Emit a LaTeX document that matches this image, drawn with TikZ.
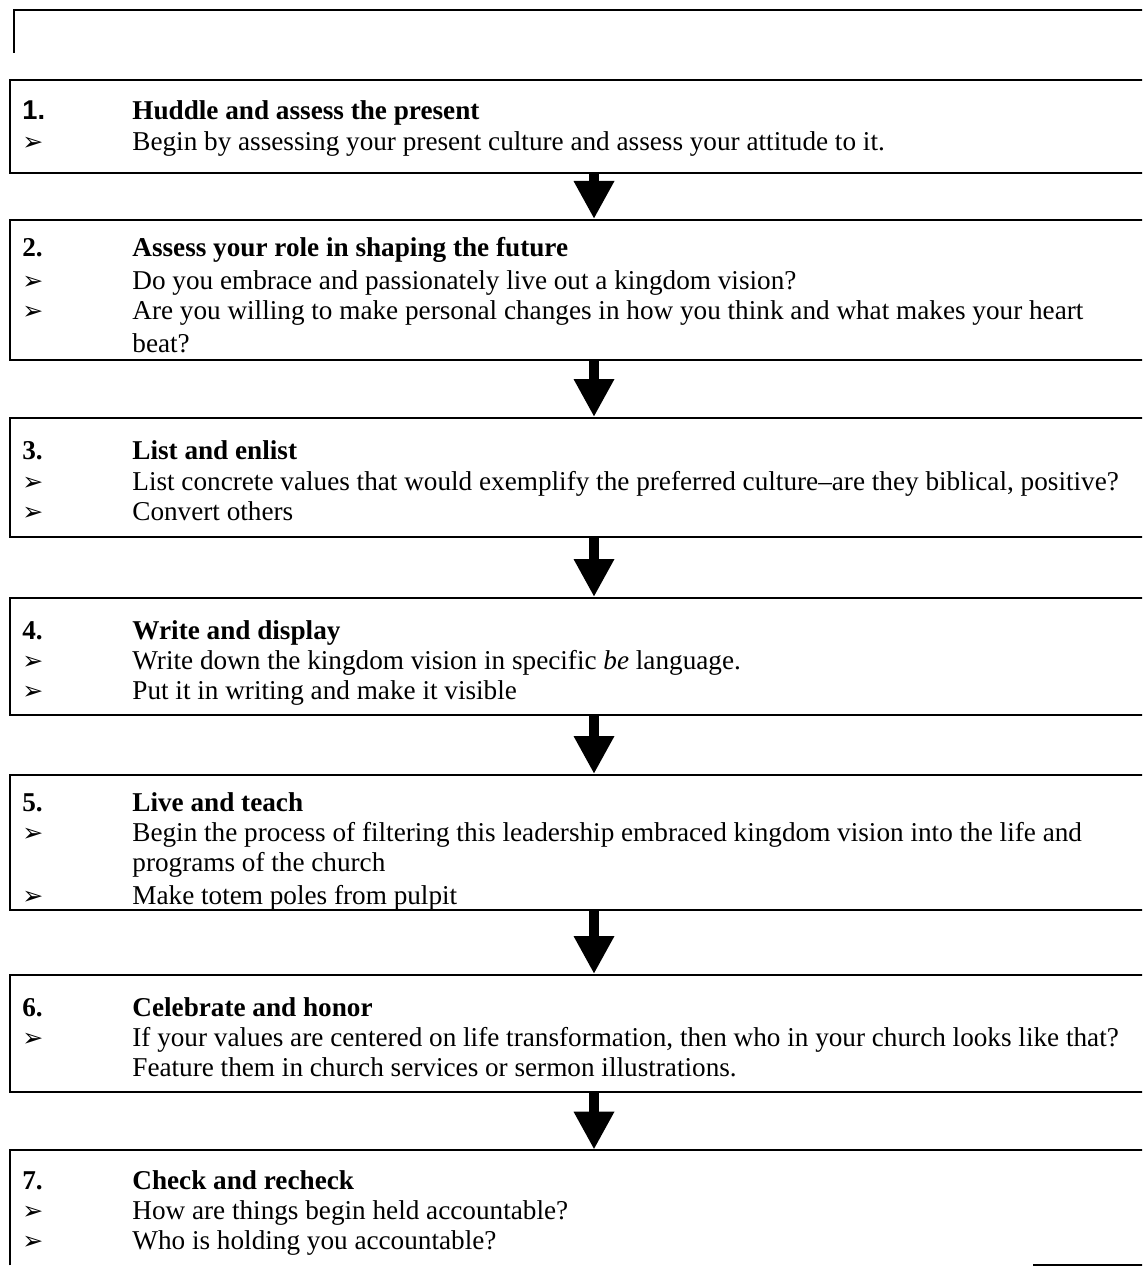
\documentclass[tikz,border=0pt]{standalone}
\usepackage{fontspec}
\setmainfont{Liberation Serif}
\setsansfont{Liberation Sans}
\newfontfamily\symfont{DejaVu Sans}
\usetikzlibrary{arrows.meta,fit}

\newcommand{\bul}{{\symfont\fontsize{12.5}{15}\selectfont ➢}}

\tikzset{
  stepbox/.style={draw, line width=1pt, inner sep=0pt},
  steptext/.style={anchor=base west, inner sep=0pt, align=left,
    font=\fontsize{13.6}{15}\selectfont},
  downarrow/.style={line width=5pt, -{Triangle[width=19pt,length=19pt]}},
}

\begin{document}
\begin{tikzpicture}[x=0.5pt,y=-0.5pt]
   \useasboundingbox (0,0) rectangle (1142,1267);
   \clip (0,0) rectangle (1142,1267);

   % outer frame
   \draw[line width=1.2pt] (14,53) -- (14,10) -- (1150,10);

   % boxes
   \node[stepbox, fit={(10,80) (1178,173)}] (b1) {};
   \node[stepbox, fit={(10,220) (1178,360)}] (b2) {};
   \node[stepbox, fit={(10,418) (1178,537)}] (b3) {};
   \node[stepbox, fit={(10,598) (1178,715)}] (b4) {};
   \node[stepbox, fit={(10,775) (1178,910)}] (b5) {};
   \node[stepbox, fit={(10,975) (1178,1092)}] (b6) {};
   \node[inner sep=0pt, fit={(10,1150) (1178,1265)}] (b7) {};
   \draw[line width=1pt] (b7.south west) -- (b7.north west) -- (b7.north east);
   \draw[line width=1pt] (b7.south east) -- ++(-145,0);

   % texts
   \node[steptext] (t1) at (22,120) {\begin{tabular}[t]{@{}p{55pt}@{}l@{}}
      {\sffamily\bfseries 1.} & \textbf{Huddle and assess the present}\\[0.5pt]
      \bul & Begin by assessing your present culture and assess your attitude to it.
   \end{tabular}};
   \node[steptext] (t2) at (22,257) {\begin{tabular}[t]{@{}p{55pt}@{}l@{}}
      \textbf{2.} & \textbf{Assess your role in shaping the future}\\[1.5pt]
      \bul & Do you embrace and passionately live out a kingdom vision?\\
      \bul & Are you willing to make personal changes in how you think and what makes your heart\\[1pt]
      & beat?
   \end{tabular}};
   \node[steptext] (t3) at (22,459) {\begin{tabular}[t]{@{}p{55pt}@{}l@{}}
      \textbf{3.} & \textbf{List and enlist}\\[0.5pt]
      \bul & List concrete values that would exemplify the preferred culture--are they biblical, positive?\\
      \bul & Convert others
   \end{tabular}};
   \node[steptext] (t4) at (22,639) {\begin{tabular}[t]{@{}p{55pt}@{}l@{}}
      \textbf{4.} & \textbf{Write and display}\\
      \bul & Write down the kingdom vision in specific \emph{be} language.\\
      \bul & Put it in writing and make it visible
   \end{tabular}};
   \node[steptext] (t5) at (22,811) {\begin{tabular}[t]{@{}p{55pt}@{}l@{}}
      \textbf{5.} & \textbf{Live and teach}\\
      \bul & Begin the process of filtering this leadership embraced kingdom vision into the life and\\
      & programs of the church\\[1.5pt]
      \bul & Make totem poles from pulpit
   \end{tabular}};
   \node[steptext] (t6) at (22,1016) {\begin{tabular}[t]{@{}p{55pt}@{}l@{}}
      \textbf{6.} & \textbf{Celebrate and honor}\\
      \bul & If your values are centered on life transformation, then who in your church looks like that?\\
      & Feature them in church services or sermon illustrations.
   \end{tabular}};
   \node[steptext] (t7) at (22,1189) {\begin{tabular}[t]{@{}p{55pt}@{}l@{}}
      \textbf{7.} & \textbf{Check and recheck}\\
      \bul & How are things begin held accountable?\\
      \bul & Who is holding you accountable?
   \end{tabular}};

   % arrows
   \draw[downarrow] (b1.south) -- (b2.north);
   \draw[downarrow] (b2.south) -- (b3.north);
   \draw[downarrow] (b3.south) -- (b4.north);
   \draw[downarrow] (b4.south) -- (b5.north);
   \draw[downarrow] (b5.south) -- (b6.north);
   \draw[downarrow] (b6.south) -- (b7.north);
\end{tikzpicture}
\end{document}
